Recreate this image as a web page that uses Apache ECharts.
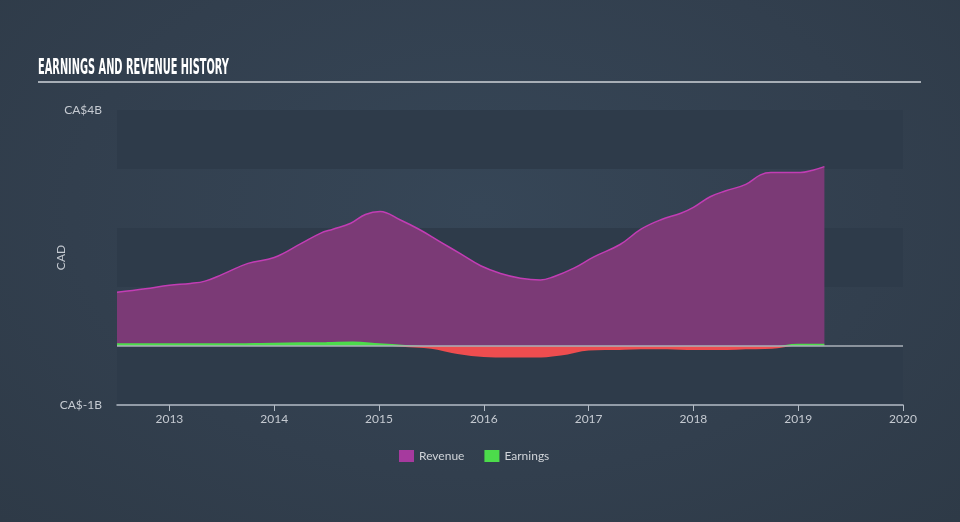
<!DOCTYPE html>
<html>
<head>
<meta charset="utf-8">
<script src="https://cdn.jsdelivr.net/npm/echarts@6/dist/echarts.min.js"></script>
<style>
html,body{margin:0;padding:0;width:960px;height:522px;overflow:hidden;}
body{background:radial-gradient(ellipse at 50% 40%, #364657 0%, #323f4e 60%, #2e3a47 100%);}
#chart{width:960px;height:522px;}
</style>
</head>
<body>
<div id="chart"></div>
<script>
// Revenue (CA$ billions) by decimal year
const revenueTimes = [2012.5,2012.77,2013.0,2013.2,2013.34,2013.5,2013.75,2014.0,2014.25,2014.44,2014.56,2014.73,2014.87,2015.01,2015.2,2015.39,2015.58,2015.78,2015.97,2016.16,2016.35,2016.54,2016.66,2016.86,2017.05,2017.3,2017.5,2017.69,2017.88,2018.0,2018.16,2018.31,2018.5,2018.64,2018.74,2019.02,2019.14,2019.25];
const revenueValues = [0.91,0.97,1.03,1.06,1.10,1.21,1.40,1.50,1.73,1.91,1.98,2.08,2.23,2.28,2.14,1.97,1.77,1.56,1.36,1.23,1.15,1.12,1.17,1.32,1.51,1.72,1.98,2.14,2.25,2.35,2.53,2.63,2.74,2.90,2.94,2.94,2.98,3.04];
// Earnings (CA$ billions)
const earningsTimes = [2012.5,2013.0,2013.5,2014.0,2014.5,2014.75,2015.0,2015.25,2015.5,2015.75,2016.0,2016.25,2016.5,2016.75,2017.0,2017.25,2017.5,2017.75,2018.0,2018.25,2018.5,2018.75,2019.0,2019.25];
const earningsValues = [0.03,0.03,0.03,0.04,0.05,0.06,0.03,0.0,-0.03,-0.12,-0.17,-0.18,-0.18,-0.14,-0.06,-0.05,-0.04,-0.04,-0.05,-0.05,-0.04,-0.03,0.02,0.02];
const xTicks = [2013,2014,2015,2016,2017,2018,2019,2020];
const yTickValues = [-1,4];
const yTickLabels = ['CA$-1B','CA$4B'];
const seriesNames = ['Revenue','Earnings'];

const GREEN = '#4cdc4b', RED = '#ee4d4f';
const chart = echarts.init(document.getElementById('chart'), null, {renderer:'canvas'});
const font = 'Lato';
chart.setOption({
  backgroundColor: 'transparent',
  animation: false,
  textStyle: {fontFamily: font},
  grid: {left:117, right:57, top:110, bottom:117},
  graphic: [
    {type:'text', x:38, y:58, scaleX:0.52, style:{text:'EARNINGS AND REVENUE HISTORY', font:'bold 21px "DejaVu Sans Condensed", "DejaVu Sans"', fill:'#ffffff', textBaseline:'top'}},
    {type:'line', shape:{x1:38, y1:82, x2:921, y2:82}, style:{stroke:'#a7aeb6', lineWidth:2}}
  ],
  legend: {
    data: seriesNames, bottom: 55, left: 394, itemWidth: 15, itemHeight: 12, itemGap: 20,
    icon: 'rect', textStyle: {color:'#d0d4d9', fontSize:12, fontFamily: font}
  },
  xAxis: {
    type:'value', min:2012.5, max:2020,
    axisLine:{show:true, onZero:false, lineStyle:{color:'#b4bcc6', width:1.5}},
    axisTick:{show:true, length:6, lineStyle:{color:'#b4bcc6'}, customValues: xTicks},
    axisLabel:{color:'#c5cad1', fontSize:12, margin:8, customValues: xTicks, formatter: v => String(Math.round(v))},
    splitLine:{show:false}
  },
  yAxis: {
    type:'value', min:-1, max:4, interval:1,
    name:'CAD', nameLocation:'middle', nameGap:50, nameRotate:90, nameMoveOverlap:false,
    nameTextStyle:{color:'#c5cad1', fontSize:12},
    axisLine:{show:false}, axisTick:{show:false},
    axisLabel:{color:'#c5cad1', fontSize:12, margin:15, customValues: yTickValues,
      formatter: v => { const i = yTickValues.indexOf(Math.round(v)); return i >= 0 ? yTickLabels[i] : ''; }},
    splitLine:{show:false},
    splitArea:{show:true, areaStyle:{color:['#2e3b4a','rgba(0,0,0,0)']}}
  },
  series: [
    {
      name:'Revenue', type:'line', smooth:0.4, symbol:'none',
      data: revenueTimes.map((t,i)=>[t, revenueValues[i]]),
      itemStyle:{color:'#a63a9e'},
      lineStyle:{color:'#c23db4', width:1.5},
      areaStyle:{color:'#7b3a76', opacity:1},
      markLine:{silent:true, symbol:'none', label:{show:false},
        lineStyle:{color:'#aab1b9', width:1.5, type:'solid'}, data:[{yAxis:0}]},
      z:2
    },
    {
      name:'Earnings', type:'line', smooth:0.4, symbol:'none',
      data: earningsTimes.map((t,i)=>[t, earningsValues[i]]),
      itemStyle:{color:GREEN},
      lineStyle:{width:2, color:GREEN},
      areaStyle:{opacity:1, color:GREEN},
      z:3
    }
  ]
});
// split earnings colour at the zero line: green above, red below
const y0 = chart.convertToPixel({yAxisIndex:0}, 0);
const grad = () => new echarts.graphic.LinearGradient(0, y0 - 1, 0, y0 + 1,
  [{offset:0,color:GREEN},{offset:0.5,color:GREEN},{offset:0.5,color:RED},{offset:1,color:RED}], true);
chart.setOption({series:[{}, {lineStyle:{color:grad()}, areaStyle:{color:grad()}}]});
</script>
</body>
</html>
